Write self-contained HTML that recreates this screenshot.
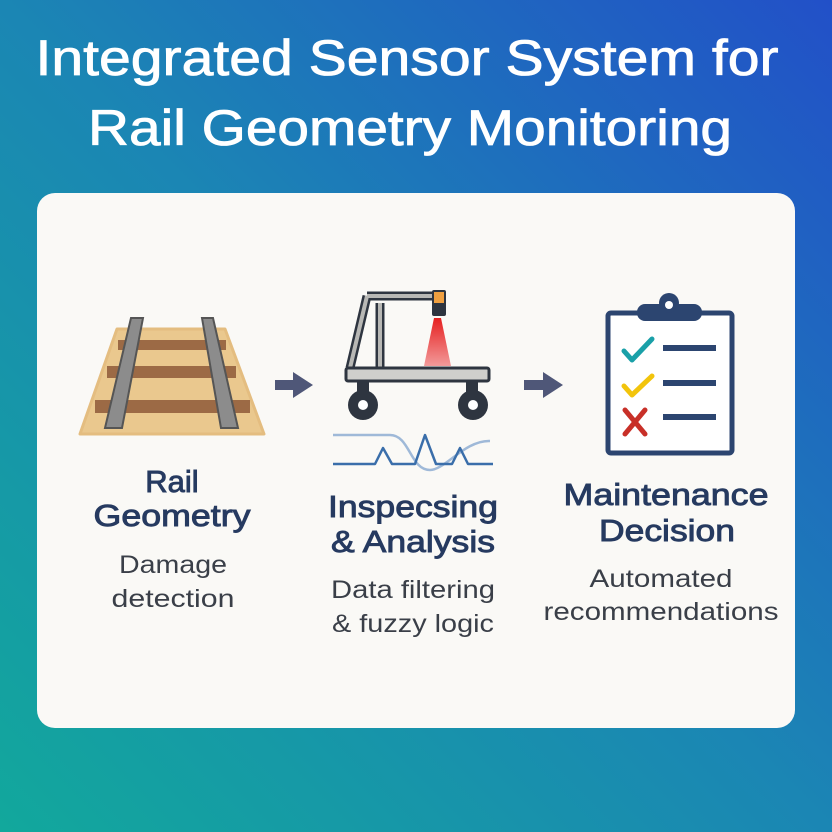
<!DOCTYPE html>
<html><head><meta charset="utf-8"><style>
html,body{margin:0;padding:0;width:832px;height:832px;overflow:hidden}
svg{display:block}
text{font-family:"Liberation Sans",sans-serif}
</style></head><body>
<svg width="832" height="832" viewBox="0 0 832 832" xmlns="http://www.w3.org/2000/svg">
<defs>
<linearGradient id="bg" x1="1" y1="0" x2="0" y2="1">
<stop offset="0" stop-color="#2250c8"/>
<stop offset="0.5" stop-color="#1b86b4"/>
<stop offset="1" stop-color="#12a89c"/>
</linearGradient>
<linearGradient id="cone" x1="0" y1="0" x2="0" y2="1">
<stop offset="0" stop-color="#e62020"/>
<stop offset="1" stop-color="#f29a9a"/>
</linearGradient>
</defs>
<rect width="832" height="832" fill="url(#bg)"/>
<g fill="#fff" stroke="#fff" stroke-width="0.8" font-size="50" text-anchor="middle">
<text x="407" y="75" textLength="743" lengthAdjust="spacingAndGlyphs">Integrated Sensor System for</text>
<text x="410" y="145" textLength="644" lengthAdjust="spacingAndGlyphs">Rail Geometry Monitoring</text>
</g>
<rect x="37" y="193" width="758" height="535" rx="18" fill="#faf9f6"/>

<!-- rail track -->
<path d="M117 329 L225 329 L264 434 L80 434 Z" fill="#eac88e" stroke="#e4bd80" stroke-linejoin="round" stroke-width="3"/>
<rect x="118" y="340" width="108" height="10" fill="#9c6a45"/>
<rect x="107" y="366" width="129" height="12" fill="#9c6a45"/>
<rect x="95" y="400" width="155" height="13" fill="#9c6a45"/>
<path d="M131 318 L143 318 L122 428 L105 428 Z" fill="#8c8c8c" stroke="#555" stroke-width="2"/>
<path d="M202 318 L213 318 L238 428 L221 428 Z" fill="#8c8c8c" stroke="#555" stroke-width="2"/>

<!-- arrows -->
<path d="M275 380 L293 380 L293 372 L313 385 L293 398 L293 390 L275 390 Z" fill="#4f5778"/>
<path d="M524 380 L543 380 L543 372 L563 385 L543 398 L543 390 L524 390 Z" fill="#4f5778"/>

<!-- cart -->
<path d="M434 318 L441 318 L451 366 L424 366 Z" fill="url(#cone)"/>
<path d="M367 296 L437 296 M367 296 L350 368 M380 303 L380 368" stroke="#2e3540" stroke-width="9" fill="none" stroke-linejoin="round"/>
<path d="M367 296 L437 296 M367 296 L350 368 M380 303 L380 368" stroke="#b8b8b5" stroke-width="4" fill="none" stroke-linejoin="round"/>
<rect x="432" y="290" width="14" height="26" rx="2" fill="#2e3540"/>
<rect x="434" y="292" width="10" height="11" fill="#f0a040"/>
<rect x="357" y="378" width="12" height="14" fill="#2e3540"/>
<rect x="466" y="378" width="12" height="14" fill="#2e3540"/>
<rect x="346" y="368" width="143" height="13" rx="2" fill="#cfcfcc" stroke="#2e3540" stroke-width="3"/>
<circle cx="363" cy="405" r="15" fill="#2e3540"/><circle cx="363" cy="405" r="5" fill="#fff"/>
<circle cx="473" cy="405" r="15" fill="#2e3540"/><circle cx="473" cy="405" r="5" fill="#fff"/>
<path d="M333 435 L390 435 C410 435 410 470 430 470 C445 470 465 440 490 441" stroke="#9fb9d8" stroke-width="2.5" fill="none"/>
<path d="M333 464 L375 464 L383 448 L392 464 L415 464 L425 435 L436 464 L452 464 L460 448 L468 464 L493 464" stroke="#3a6eaa" stroke-width="2.5" fill="none" stroke-linejoin="round"/>

<!-- clipboard -->
<rect x="608" y="313" width="124" height="140" rx="3" fill="#fff" stroke="#2c4570" stroke-width="5"/>
<rect x="637" y="304" width="65" height="17" rx="8" fill="#2c4570"/>
<circle cx="669" cy="303" r="10" fill="#2c4570"/><circle cx="669" cy="305" r="4" fill="#fff"/>
<path d="M624 351 L632 360 L652 339" stroke="#1aa0a8" stroke-width="5" fill="none" stroke-linecap="round" stroke-linejoin="round"/>
<path d="M624 386 L632 395 L652 376" stroke="#f2c40c" stroke-width="5" fill="none" stroke-linecap="round" stroke-linejoin="round"/>
<path d="M625 410 L645 434 M645 410 L625 434" stroke="#c83028" stroke-width="5" fill="none" stroke-linecap="round"/>
<rect x="663" y="345" width="53" height="6" fill="#2c4570"/>
<rect x="663" y="380" width="53" height="6" fill="#2c4570"/>
<rect x="663" y="414" width="53" height="6" fill="#2c4570"/>

<!-- labels -->
<g fill="#263a60" stroke="#263a60" stroke-width="0.9" font-size="31" text-anchor="middle">
<text x="172" y="492">Rail</text>
<text x="172" y="526" textLength="157" lengthAdjust="spacingAndGlyphs">Geometry</text>
<text x="413" y="517" textLength="170" lengthAdjust="spacingAndGlyphs">Inspecsing</text>
<text x="413" y="552" textLength="164" lengthAdjust="spacingAndGlyphs">&amp; Analysis</text>
<text x="666" y="505" textLength="205" lengthAdjust="spacingAndGlyphs">Maintenance</text>
<text x="667" y="541" textLength="136" lengthAdjust="spacingAndGlyphs">Decision</text>
</g>
<g fill="#3a3f48" font-size="25" text-anchor="middle">
<text x="173" y="573" textLength="108" lengthAdjust="spacingAndGlyphs">Damage</text>
<text x="173" y="607" textLength="123" lengthAdjust="spacingAndGlyphs">detection</text>
<text x="413" y="598" textLength="164" lengthAdjust="spacingAndGlyphs">Data filtering</text>
<text x="413" y="632" textLength="162" lengthAdjust="spacingAndGlyphs">&amp; fuzzy logic</text>
<text x="661" y="587" textLength="143" lengthAdjust="spacingAndGlyphs">Automated</text>
<text x="661" y="620" textLength="235" lengthAdjust="spacingAndGlyphs">recommendations</text>
</g>
</svg>
</body></html>
